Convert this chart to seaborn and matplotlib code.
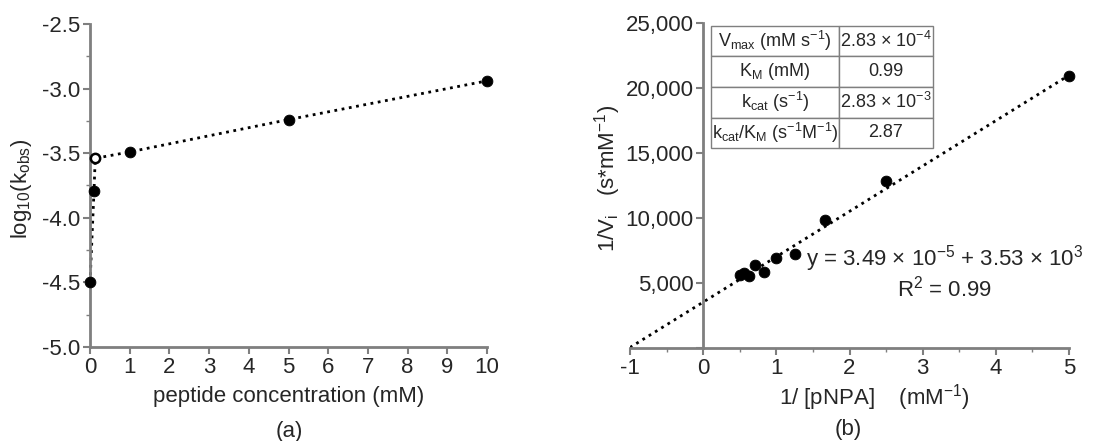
import numpy as np
import matplotlib
matplotlib.use("Agg")
import matplotlib.pyplot as plt
from matplotlib.ticker import MultipleLocator, FuncFormatter
import seaborn as sns

# (a) log10(kobs) vs peptide concentration
peptide_mM = [0, 0.1, 0.13, 1, 5, 10]
log_kobs = [-4.50, -3.79, -3.54, -3.49, -3.24, -2.94]
open_idx = 2  # hollow marker

# (b) Lineweaver-Burk data
inv_pnpa = [0.5, 0.556, 0.625, 0.714, 0.833, 1.0, 1.25, 1.667, 2.5, 5.0]
inv_vi = [5640, 5770, 5560, 6410, 5820, 6920, 7230, 9820, 12820, 20900]
slope, intercept = 3490, 3530
fit_x = [-1, 5]

table_rows = [
    [r"V$_{\mathrm{max}}$ (mM s$^{-1}$)", r"2.83 $\times$ 10$^{-4}$"],
    [r"K$_{\mathrm{M}}$ (mM)", "0.99"],
    [r"k$_{\mathrm{cat}}$ (s$^{-1}$)", r"2.83 $\times$ 10$^{-3}$"],
    [r"k$_{\mathrm{cat}}$/K$_{\mathrm{M}}$ (s$^{-1}$M$^{-1}$)", "2.87"],
]

sns.set_style("white")
plt.rcParams["font.family"] = ["Liberation Sans", "DejaVu Sans"]
plt.rcParams["mathtext.fontset"] = "custom"
plt.rcParams["mathtext.rm"] = "Liberation Sans"
plt.rcParams["mathtext.it"] = "Liberation Sans:italic"
plt.rcParams["mathtext.default"] = "regular"
plt.rcParams["axes.unicode_minus"] = False

spine_c = "#7f7f7f"
fs = 16

fig = plt.figure(figsize=(11.2, 4.41), dpi=100)
ax1 = fig.add_axes([0.0804, 0.2132, 0.3545, 0.7324])
ax2 = fig.add_axes([0.5625, 0.2109, 0.392, 0.737])

# ---- panel (a)
sns.lineplot(x=peptide_mM, y=log_kobs, ax=ax1, sort=False, color="black",
             linestyle=":", linewidth=2, estimator=None, clip_on=False)
filled = [i for i in range(len(peptide_mM)) if i != open_idx]
sns.scatterplot(x=[peptide_mM[i] for i in filled], y=[log_kobs[i] for i in filled],
                ax=ax1, color="black", s=60, edgecolor="black", zorder=3, clip_on=False)
ax1.scatter([peptide_mM[open_idx]], [log_kobs[open_idx]], s=45, facecolor="white",
            edgecolor="black", linewidth=1.8, zorder=4, clip_on=False)
ax1.set_xlim(0, 10)
ax1.set_ylim(-5.0, -2.5)
ax1.xaxis.set_major_locator(MultipleLocator(1))
ax1.yaxis.set_major_locator(MultipleLocator(0.5))
ax1.yaxis.set_minor_locator(MultipleLocator(0.25))
ax1.yaxis.set_major_formatter(FuncFormatter(lambda v, p: f"{v:.1f}"))
ax1.set_xlabel("peptide concentration (mM)", fontsize=fs, labelpad=6)
ax1.set_ylabel(r"log$_{10}$(k$_{\mathrm{obs}}$)", fontsize=fs)
ax1.yaxis.set_label_coords(-0.14, 0.49)
for s in ["top", "right"]:
    ax1.spines[s].set_visible(False)
for s in ["left", "bottom"]:
    ax1.spines[s].set_color(spine_c)
    ax1.spines[s].set_linewidth(2)
ax1.tick_params(axis="both", which="major", direction="out", length=5, width=1.5,
                color=spine_c, labelsize=fs, pad=2, left=True, bottom=True)
ax1.tick_params(axis="y", which="minor", direction="out", length=3, width=1,
                color=spine_c, left=True)

# ---- panel (b)
sns.lineplot(x=fit_x, y=[slope * x + intercept for x in fit_x], ax=ax2,
             color="black", linestyle=":", linewidth=2)
sns.scatterplot(x=inv_pnpa, y=inv_vi, ax=ax2, color="black", s=60,
                edgecolor="black", zorder=3, clip_on=False)
ax2.set_xlim(-1, 5)
ax2.set_ylim(0, 25000)
ax2.spines["left"].set_position(("data", 0))
ax2.spines["bottom"].set_position(("data", 0))
for s in ["top", "right"]:
    ax2.spines[s].set_visible(False)
for s in ["left", "bottom"]:
    ax2.spines[s].set_color(spine_c)
    ax2.spines[s].set_linewidth(2)
ax2.xaxis.set_major_locator(MultipleLocator(1))
ax2.xaxis.set_minor_locator(MultipleLocator(0.5))
ax2.yaxis.set_major_locator(MultipleLocator(5000))
ax2.yaxis.set_major_formatter(FuncFormatter(lambda v, p: "" if v == 0 else f"{int(v):,}"))
ax2.tick_params(axis="both", which="major", direction="out", length=5, width=1.5,
                color=spine_c, labelsize=fs, pad=2, left=True, bottom=True)
ax2.tick_params(axis="x", which="minor", direction="out", length=3, width=1,
                color=spine_c, bottom=True)
ax2.set_xlabel(r"1/ [pNPA]    (mM$^{-1}$)", fontsize=fs)
ax2.xaxis.set_label_coords(0.558, -0.105)
ax2.set_ylabel(r"1/V$_{i}$   (s*mM$^{-1}$)", fontsize=fs)
ax2.yaxis.set_label_coords(-0.016, 0.523)

tbl = ax2.table(cellText=table_rows, cellLoc="center", colWidths=[0.575, 0.425],
                bbox=[0.185, 0.615, 0.505, 0.376])
tbl.auto_set_font_size(False)
tbl.set_fontsize(13)
for cell in tbl.get_celld().values():
    cell.set_edgecolor(spine_c)
    cell.set_linewidth(1)
    cell.set_facecolor("white")
    cell.PAD = 0.01

ax2.text(3.3, 6900, r"y = 3.49 $\times$ 10$^{-5}$ + 3.53 $\times$ 10$^{3}$",
         ha="center", va="center", fontsize=fs)
ax2.text(3.3, 4600, r"R$^{2}$ = 0.99", ha="center", va="center", fontsize=fs)

fig.text(0.258, 0.022, "(a)", ha="center", va="center", fontsize=fs)
fig.text(0.757, 0.026, "(b)", ha="center", va="center", fontsize=fs)

fig.savefig("out.png", dpi=100)
